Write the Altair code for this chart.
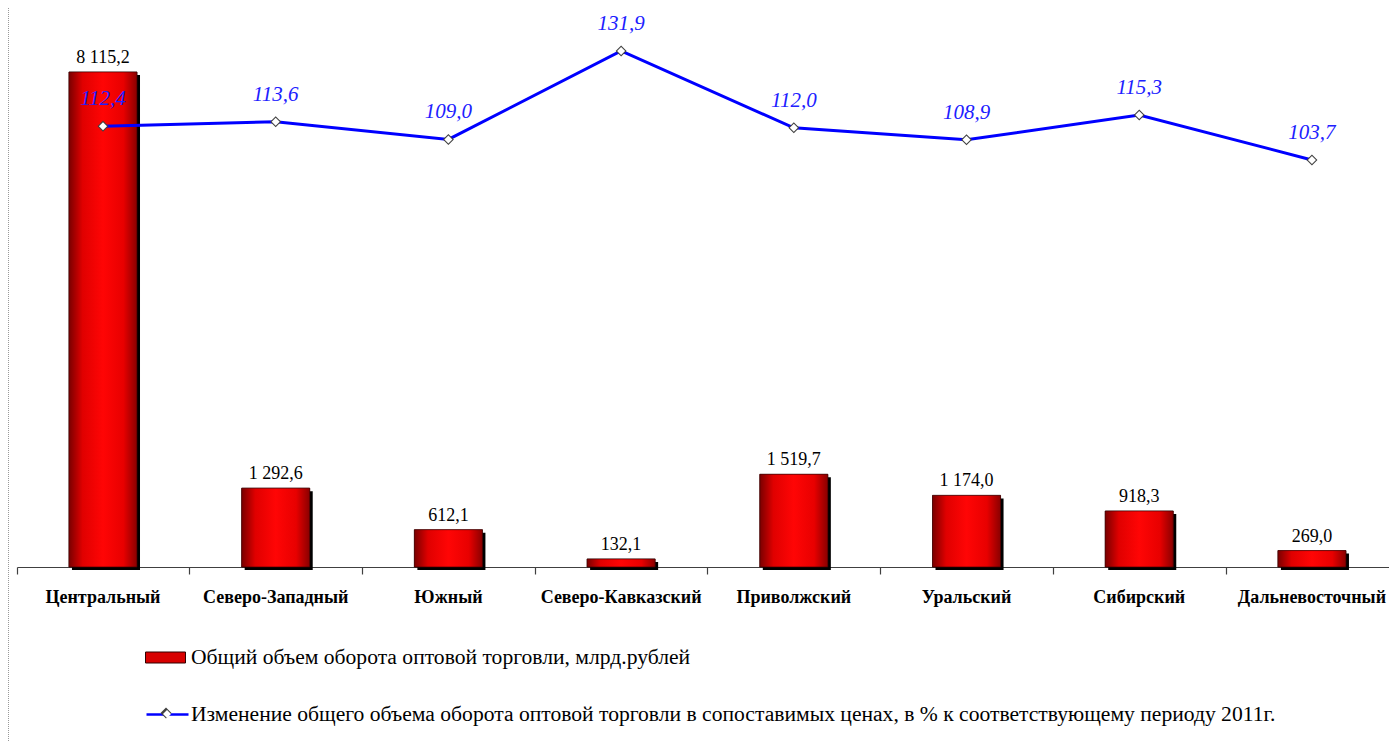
import altair as alt
import pandas as pd

regions = ["Центральный", "Северо-Западный", "Южный", "Северо-Кавказский",
           "Приволжский", "Уральский", "Сибирский", "Дальневосточный"]
volume = [8115.2, 1292.6, 612.1, 132.1, 1519.7, 1174.0, 918.3, 269.0]
change = [112.4, 113.6, 109.0, 131.9, 112.0, 108.9, 115.3, 103.7]

bar_series = "Общий объем оборота оптовой торговли, млрд.рублей"
line_series = ("Изменение общего объема оборота оптовой торговли в сопоставимых ценах, "
               "в % к соответствующему периоду 2011г.")


def fmt(v):
    return f"{v:,.1f}".replace(",", " ").replace(".", ",")


df = pd.DataFrame({
    "region": regions,
    "volume": volume,
    "change": change,
    "vol_label": [fmt(v) for v in volume],
    "chg_label": [fmt(v) for v in change],
    "s1": bar_series,
    "s2": line_series,
    "s3": " ",
    "s4": "  ",
})

SERIF = "Liberation Serif"
W, H = 1372, 559
P_IN, P_OUT, ALIGN = 0.606, 0.275, 0.547
STEP = W / (len(regions) - P_IN + 2 * P_OUT)

xscale = alt.Scale(paddingInner=P_IN, paddingOuter=P_OUT, align=ALIGN)

x_main = alt.X("region:N", sort=regions, title=None, scale=xscale,
               axis=alt.Axis(orient="bottom", labelAngle=0, ticks=False,
                             domainColor="#404040", domainWidth=1.2,
                             labelFont=SERIF, labelFontWeight="bold", labelFontSize=18,
                             labelColor="black", labelPadding=21))
x_plain = alt.X("region:N", sort=regions, title=None, scale=xscale, axis=None)
x_ticks = alt.X("region:N", sort=regions, title=None, scale=xscale,
                axis=alt.Axis(orient="bottom", labels=False, domain=False,
                              tickOffset=-STEP / 2, tickColor="#404040",
                              tickWidth=1.2, tickSize=7))

ybar = alt.Y("volume:Q", title=None, axis=None,
             scale=alt.Scale(domain=[0, 9164.4], nice=False, zero=False))
yline = alt.Y("change:Q", title=None, axis=None,
              scale=alt.Scale(domain=[-1.6, 143.0], nice=False, zero=False))

base = alt.Chart(df)

shadow = base.mark_bar(color="black", xOffset=3, yOffset=3).encode(x=x_main, y=ybar)

legend_bar = base.mark_bar(stroke="#300000", strokeWidth=0.5).encode(
    x=x_main, y=ybar,
    color=alt.Color("s1:N", scale=alt.Scale(range=["#d80000"]),
                    legend=alt.Legend(orient="none", legendX=128, legendY=629,
                                      title=None, padding=0,
                                      symbolType="M-1,-0.275H1V0.275H-1Z",
                                      symbolSize=1600, symbolStrokeColor="#300000",
                                      symbolStrokeWidth=1, symbolOpacity=1,
                                      labelFont=SERIF, labelFontSize=21.6,
                                      labelColor="black", labelOffset=5,
                                      labelLimit=0)))

grad = alt.LinearGradient(
    gradient="linear", x1=0, x2=1, y1=0, y2=0,
    stops=[alt.GradientStop(offset=0, color="#7a0000"),
           alt.GradientStop(offset=0.2, color="#e00000"),
           alt.GradientStop(offset=0.5, color="#ff0505"),
           alt.GradientStop(offset=0.8, color="#e80000"),
           alt.GradientStop(offset=1, color="#8a0000")])

bars = base.mark_bar(color=grad, stroke="#300000", strokeWidth=0.6).encode(x=x_main, y=ybar)

bar_text = base.mark_text(font=SERIF, fontSize=18, color="black",
                          baseline="alphabetic", dy=-9).encode(
    x=x_main, y=ybar, text="vol_label:N")

line = base.mark_line(strokeWidth=3).encode(
    x=x_plain, y=yline,
    stroke=alt.Stroke("s2:N", scale=alt.Scale(range=["#0000ff"]),
                      legend=alt.Legend(orient="none", legendX=128, legendY=684,
                                        title=None, padding=0,
                                        symbolType="stroke", symbolSize=1764,
                                        symbolStrokeWidth=2.5, symbolOpacity=1,
                                        labelFont=SERIF, labelFontSize=21.6,
                                        labelColor="black", labelOffset=1,
                                        labelLimit=0)))

points_outer = base.mark_point(filled=True, fill="#404040", strokeWidth=0,
                               size=121, opacity=1).encode(
    x=x_plain, y=yline,
    shape=alt.Shape("s3:N", scale=alt.Scale(range=["diamond"]),
                    legend=alt.Legend(orient="none", legendX=143.5, legendY=699.5,
                                      title=None, padding=0, labelExpr="''",
                                      symbolSize=121, symbolOpacity=1,
                                      symbolStrokeWidth=0)))

points_inner = base.mark_point(filled=True, fill="white", strokeWidth=0,
                               size=64, opacity=1).encode(
    x=x_plain, y=yline,
    shape=alt.Shape("s4:N", scale=alt.Scale(range=["diamond"]),
                    legend=alt.Legend(orient="none", legendX=145, legendY=701,
                                      title=None, padding=0, labelExpr="''",
                                      symbolSize=64, symbolOpacity=1,
                                      symbolStrokeWidth=0)))

line_text = base.mark_text(font=SERIF, fontSize=21, fontStyle="italic",
                           color="#2020ff", baseline="alphabetic", dy=-21).encode(
    x=x_plain, y=yline, text="chg_label:N")

tick_layer = base.mark_point(opacity=0).encode(x=x_ticks, y=alt.value(300))

frame = alt.Chart(pd.DataFrame({"a": [0]})).mark_rule(
    color="#999999", strokeDash=[1, 1], strokeWidth=1).encode(
    x=alt.value(-8.5), x2=alt.value(-8.5), y=alt.value(0), y2=alt.value(734))

bar_layer = alt.layer(shadow, legend_bar, bars, bar_text)
line_layer = alt.layer(line, points_outer, points_inner, line_text).resolve_scale(
    shape="independent")

chart = alt.layer(frame, tick_layer, bar_layer, line_layer).resolve_scale(
    y="independent", shape="independent"
).resolve_axis(
    x="independent"
).properties(
    width=W, height=H,
    autosize=alt.AutoSizeParams(type="none"),
    padding={"left": 9, "top": 0, "right": 0, "bottom": 175},
).configure_view(stroke=None, strokeWidth=0)

chart.save("out.html", embed_options={"renderer": "svg", "actions": False})
